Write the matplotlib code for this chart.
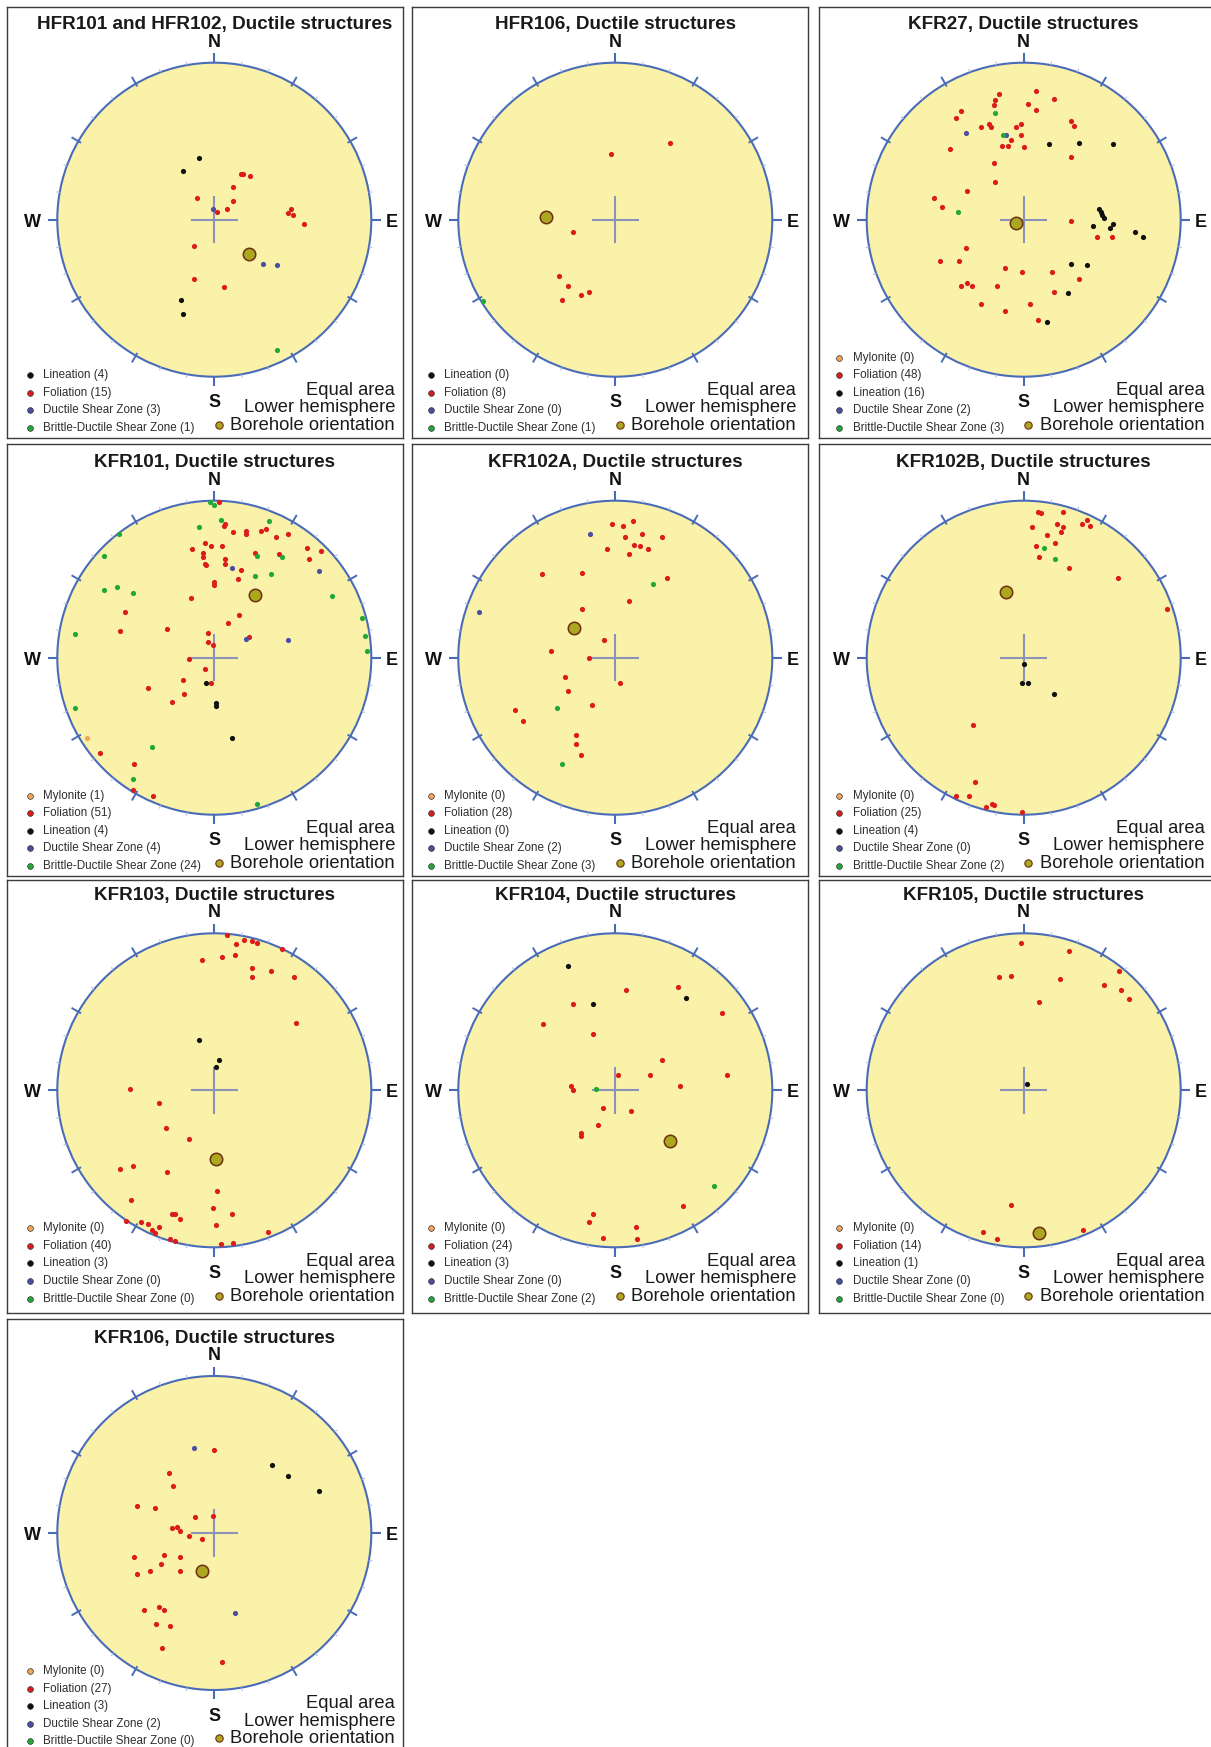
import matplotlib
matplotlib.use("Agg")
import numpy as np
import matplotlib.pyplot as plt
from matplotlib.patches import Circle

plt.rcParams['font.family'] = ['Liberation Sans', 'DejaVu Sans']

# Pole positions: (east, north) in % of net radius
HFR101_LIN = [(-10, 39), (-20, 31), (-21, -51), (-20, -60)]
HFR101_FOL = [(17, 29), (18, 29), (23, 28), (12, 21), (-11, 14), (12, 12), (8, 7), (2, 5),
              (49, 7), (47, 4), (50, 3), (57, -3), (-13, -17), (-13, -38), (6, -43)]
HFR101_DSZ = [(-1, 7), (31, -28), (40, -29)]
HFR101_BDSZ = [(40, -83)]
HFR101_BH = (22, -22)

HFR106_FOL = [(-3, 42), (35, 49), (-27, -8), (-36, -36), (-30, -42), (-17, -46), (-22, -48), (-34, -51)]
HFR106_BDSZ = [(-84, -52)]
HFR106_BH = (-44, 2)

KFR27_FOL = [(-16, 80), (8, 82), (-18, 76), (-19, 73), (-40, 69), (-43, 65), (3, 74), (19, 77),
             (8, 70), (-27, 59), (-22, 61), (-21, 59), (-5, 59), (-2, 61), (-8, 51), (-2, 54),
             (30, 63), (32, 60), (-47, 45), (-14, 47), (-10, 47), (0, 46), (30, 40), (-19, 36),
             (-18, 24), (-36, 18), (-57, 14), (-52, 8), (30, -1), (47, -11), (56, -11), (-37, -18),
             (-53, -26), (-41, -26), (-12, -31), (-1, -33), (18, -33), (35, -38), (-40, -42),
             (-36, -40), (-33, -42), (-17, -42), (19, -46), (-27, -54), (4, -54), (-12, -58), (9, -64)]
KFR27_LIN = [(16, 48), (35, 49), (57, 48), (48, 7), (49, 5), (50, 3), (51, 1), (44, -4), (55, -5),
             (57, -3), (71, -8), (76, -11), (30, -28), (40, -29), (28, -47), (15, -65)]
KFR27_DSZ = [(-37, 55), (-11, 54)]
KFR27_BDSZ = [(-18, 68), (-13, 54), (-42, 5)]
KFR27_BH = (-5, -2)

KFR101_MYL = [(-81, -51)]
KFR101_FOL = [(3, 99), (6, 84), (7, 85), (12, 80), (20, 81), (20, 79), (30, 81), (33, 82), (39, 77),
              (47, 79), (-14, 69), (-6, 73), (-2, 71), (5, 71), (-7, 67), (-7, 64), (-6, 60), (-5, 59),
              (7, 63), (7, 60), (17, 56), (26, 67), (41, 66), (59, 70), (68, 68), (60, 63), (15, 50),
              (0, 48), (0, 46), (-15, 38), (16, 27), (9, 22), (-30, 18), (-57, 29), (-60, 17), (-4, 16),
              (-4, 10), (-1, 8), (22, 13), (-16, -1), (-6, -7), (-2, -16), (-20, -14), (-42, -19),
              (-19, -23), (-27, -28), (-73, -61), (-51, -68), (-52, -84), (-39, -88)]
KFR101_LIN = [(-5, -16), (1, -29), (1, -31), (11, -51)]
KFR101_DSZ = [(11, 57), (67, 55), (20, 12), (47, 11)]
KFR101_BDSZ = [(-3, 99), (0, 97), (4, 88), (35, 87), (-10, 83), (-61, 79), (-70, 65), (27, 65),
               (43, 64), (26, 52), (36, 53), (-62, 45), (-70, 43), (-52, 41), (75, 39), (-89, 15),
               (94, 25), (96, 14), (97, 4), (-89, -32), (-40, -57), (-52, -77), (27, -93)]
KFR101_BH = (26, 40)

KFR102A_FOL = [(-2, 85), (5, 84), (11, 87), (6, 77), (17, 79), (30, 77), (-5, 69), (12, 72), (16, 71),
               (21, 69), (9, 66), (-47, 53), (-21, 54), (33, 51), (9, 36), (-21, 31), (-7, 11), (-41, 4),
               (-17, 0), (3, -16), (-32, -12), (-30, -21), (-15, -30), (-64, -33), (-59, -40),
               (-25, -49), (-25, -55), (-22, -62)]
KFR102A_DSZ = [(-16, 79), (-87, 29)]
KFR102A_BDSZ = [(24, 47), (-37, -32), (-34, -68)]
KFR102A_BH = (-26, 19)

KFR102B_FOL = [(9, 93), (11, 92), (25, 93), (40, 88), (37, 85), (42, 84), (5, 83), (21, 85), (25, 83),
               (24, 80), (15, 78), (20, 73), (8, 71), (10, 64), (29, 57), (60, 51), (91, 31),
               (-32, -43), (-31, -79), (-43, -88), (-35, -88), (-20, -93), (-19, -94), (-24, -95),
               (-1, -98)]
KFR102B_LIN = [(0, -4), (-1, -16), (3, -16), (19, -23)]
KFR102B_BDSZ = [(13, 70), (20, 63)]
KFR102B_BH = (-11, 42)

KFR103_FOL = [(8, 99), (14, 93), (19, 96), (24, 95), (27, 94), (43, 90), (-8, 83), (5, 85), (13, 86),
              (24, 78), (24, 72), (36, 76), (51, 72), (52, 43), (-54, 1), (-35, -8), (-31, -24),
              (-16, -31), (-60, -50), (-52, -48), (-30, -52), (2, -64), (-53, -70), (-1, -75),
              (-27, -79), (-25, -79), (-22, -82), (11, -79), (-56, -83), (-47, -84), (-42, -85),
              (-35, -87), (-40, -89), (-38, -91), (1, -86), (34, -90), (-28, -95), (-25, -96),
              (4, -98), (12, -97)]
KFR103_LIN = [(-10, 32), (3, 19), (1, 15)]
KFR103_BH = (1, -44)

KFR104_FOL = [(7, 64), (40, 66), (-27, 55), (68, 49), (-46, 42), (-14, 36), (30, 19), (2, 10), (22, 10),
              (71, 10), (41, 3), (-28, 3), (-27, 0), (-8, -11), (10, -13), (-11, -22), (-22, -27),
              (-22, -29), (43, -74), (-14, -79), (-17, -84), (13, -87), (-8, -94), (14, -95)]
KFR104_LIN = [(-30, 79), (-14, 55), (45, 59)]
KFR104_BDSZ = [(-12, 1), (63, -61)]
KFR104_BH = (35, -32)

KFR105_FOL = [(-2, 94), (29, 89), (-16, 72), (-8, 73), (23, 71), (61, 76), (51, 67), (62, 64), (67, 58),
              (10, 56), (-8, -73), (-26, -90), (-17, -95), (38, -89)]
KFR105_LIN = [(2, 4)]
KFR105_BH = (10, -91)

KFR106_FOL = [(0, 53), (-29, 38), (-26, 30), (-49, 17), (-38, 16), (-12, 10), (-1, 11), (-27, 3),
              (-24, 4), (-22, 1), (-16, -2), (-8, -4), (-51, -15), (-32, -14), (-22, -15), (-34, -20),
              (-49, -26), (-41, -24), (-22, -24), (-45, -49), (-35, -47), (-32, -49), (-37, -58),
              (-28, -59), (-33, -73), (5, -82)]
KFR106_LIN = [(37, 43), (47, 36), (67, 27)]
KFR106_DSZ = [(-13, 54), (13, -51)]
KFR106_BH = (-8, -24)

# legend counts as printed on each net
CATS4 = ['Lineation', 'Foliation', 'Ductile Shear Zone', 'Brittle-Ductile Shear Zone']
CATS5 = ['Mylonite', 'Foliation', 'Lineation', 'Ductile Shear Zone', 'Brittle-Ductile Shear Zone']
HFR101_N = [4, 15, 3, 1]
HFR106_N = [0, 8, 0, 1]
KFR27_N = [0, 48, 16, 2, 3]
KFR101_N = [1, 51, 4, 4, 24]
KFR102A_N = [0, 28, 0, 2, 3]
KFR102B_N = [0, 25, 4, 0, 2]
KFR103_N = [0, 40, 3, 0, 0]
KFR104_N = [0, 24, 3, 0, 2]
KFR105_N = [0, 14, 1, 0, 0]
KFR106_N = [0, 27, 3, 2, 0]

COLORS = {'Mylonite': '#f2a55a', 'Foliation': '#dc1c1c', 'Lineation': '#111111',
          'Ductile Shear Zone': '#4b4fa3', 'Brittle-Ductile Shear Zone': '#22a83a'}
FILL = '#faf2a8'
RIM = '#4a6cb8'

panels = [
    ('HFR101 and HFR102', {'Lineation': HFR101_LIN, 'Foliation': HFR101_FOL,
                           'Ductile Shear Zone': HFR101_DSZ, 'Brittle-Ductile Shear Zone': HFR101_BDSZ},
     HFR101_BH, CATS4, HFR101_N),
    ('HFR106', {'Foliation': HFR106_FOL, 'Brittle-Ductile Shear Zone': HFR106_BDSZ},
     HFR106_BH, CATS4, HFR106_N),
    ('KFR27', {'Foliation': KFR27_FOL, 'Lineation': KFR27_LIN, 'Ductile Shear Zone': KFR27_DSZ,
               'Brittle-Ductile Shear Zone': KFR27_BDSZ}, KFR27_BH, CATS5, KFR27_N),
    ('KFR101', {'Mylonite': KFR101_MYL, 'Foliation': KFR101_FOL, 'Lineation': KFR101_LIN,
                'Ductile Shear Zone': KFR101_DSZ, 'Brittle-Ductile Shear Zone': KFR101_BDSZ},
     KFR101_BH, CATS5, KFR101_N),
    ('KFR102A', {'Foliation': KFR102A_FOL, 'Ductile Shear Zone': KFR102A_DSZ,
                 'Brittle-Ductile Shear Zone': KFR102A_BDSZ}, KFR102A_BH, CATS5, KFR102A_N),
    ('KFR102B', {'Foliation': KFR102B_FOL, 'Lineation': KFR102B_LIN,
                 'Brittle-Ductile Shear Zone': KFR102B_BDSZ}, KFR102B_BH, CATS5, KFR102B_N),
    ('KFR103', {'Foliation': KFR103_FOL, 'Lineation': KFR103_LIN}, KFR103_BH, CATS5, KFR103_N),
    ('KFR104', {'Foliation': KFR104_FOL, 'Lineation': KFR104_LIN,
                'Brittle-Ductile Shear Zone': KFR104_BDSZ}, KFR104_BH, CATS5, KFR104_N),
    ('KFR105', {'Foliation': KFR105_FOL, 'Lineation': KFR105_LIN}, KFR105_BH, CATS5, KFR105_N),
    ('KFR106', {'Foliation': KFR106_FOL, 'Lineation': KFR106_LIN, 'Ductile Shear Zone': KFR106_DSZ},
     KFR106_BH, CATS5, KFR106_N),
]

# page layout in pixels (frame edges and net centres)
W, H, R = 1211, 1747, 157.0
col_left = [7, 412, 819]
col_right = [403, 808, 1216]
col_cx = [214.3, 615.3, 1023.7]
row_top = [7, 444, 880, 1319]
row_bot = [438, 876, 1313, 1755]
row_cy = [219.7, 657.7, 1090.3, 1533]

fig = plt.figure(figsize=(W / 100, H / 100), dpi=100)


def draw_net(ax, name, series, bh, cats, counts):
    ax.add_patch(Circle((0, 0), 1, fc=FILL, ec=RIM, lw=1.5, zorder=1))
    for az in range(0, 360, 10):
        s, c = np.sin(np.radians(az)), np.cos(np.radians(az))
        if az % 90 == 0:
            r0, r1, lw, col = 1.0, 1.06, 1.5, RIM
        elif az % 30 == 0:
            r0, r1, lw, col = 0.98, 1.05, 1.4, RIM
        else:
            r0, r1, lw, col = 1.0, 1.022, 0.8, '#b4c0e4'
        ax.plot([r0 * s, r1 * s], [r0 * c, r1 * c], color=col, lw=lw, zorder=2,
                solid_capstyle='butt')
    ax.plot([-0.145, 0.145], [0, 0], color='#8c93bb', lw=1.5, zorder=2)
    ax.plot([0, 0], [-0.145, 0.145], color='#8c93bb', lw=1.5, zorder=2)

    for cat in cats:
        pts = series.get(cat, [])
        if pts:
            xy = np.array(pts) / 100.0
            ax.scatter(xy[:, 0], xy[:, 1], s=14, color=COLORS[cat], lw=0, zorder=3)
    ax.scatter([bh[0] / 100], [bh[1] / 100], s=80, color='#aba71f', edgecolors='#6e2f12',
               lw=1.1, zorder=4)

    ax.text(0, 1.213, f'{name}, Ductile structures', ha='center', va='baseline',
            fontsize=13.6, fontweight='bold', color='#1a1a1a')
    kw = dict(fontsize=13, fontweight='bold', color='#111111')
    ax.text(0, 1.102, 'N', ha='center', va='baseline', **kw)
    ax.text(0, -1.195, 'S', ha='center', va='baseline', **kw)
    ax.text(-1.105, -0.045, 'W', ha='right', va='baseline', **kw)
    ax.text(1.09, -0.045, 'E', ha='left', va='baseline', **kw)

    for txt, y in zip(['Equal area', 'Lower hemisphere', 'Borehole orientation'],
                      [-1.117, -1.227, -1.34]):
        ax.text(1.151, y, txt, ha='right', va='baseline', fontsize=13.2, color='#1a1a1a')
    ax.scatter([0.03], [-1.308], s=28, color='#aba71f', edgecolors='#6e2f12', lw=0.8, zorder=4)

    n = len(cats)
    for i, (cat, k) in enumerate(zip(cats, counts)):
        y = -1.327 + 0.112 * (n - 1 - i)
        ax.scatter([-1.175], [y], s=17, color=COLORS[cat], edgecolors='#333333', lw=0.5, zorder=4)
        ax.text(-1.09, y, f'{cat} ({k})', ha='left', va='center', fontsize=8.4, color='#2e2e2e')


for idx, (name, series, bh, cats, counts) in enumerate(panels):
    r, c = divmod(idx, 3)
    l, rt, t, b = col_left[c], col_right[c], row_top[r], row_bot[r]
    ax = fig.add_axes([l / W, 1 - b / H, (rt - l) / W, (b - t) / H])
    ax.set_xlim((l - col_cx[c]) / R, (rt - col_cx[c]) / R)
    ax.set_ylim((row_cy[r] - b) / R, (row_cy[r] - t) / R)
    ax.set_xticks([])
    ax.set_yticks([])
    for sp in ax.spines.values():
        sp.set_color('#3c3c3c')
        sp.set_linewidth(1.0)
    draw_net(ax, name, series, bh, cats, counts)

fig.savefig('out.png', dpi=100)
